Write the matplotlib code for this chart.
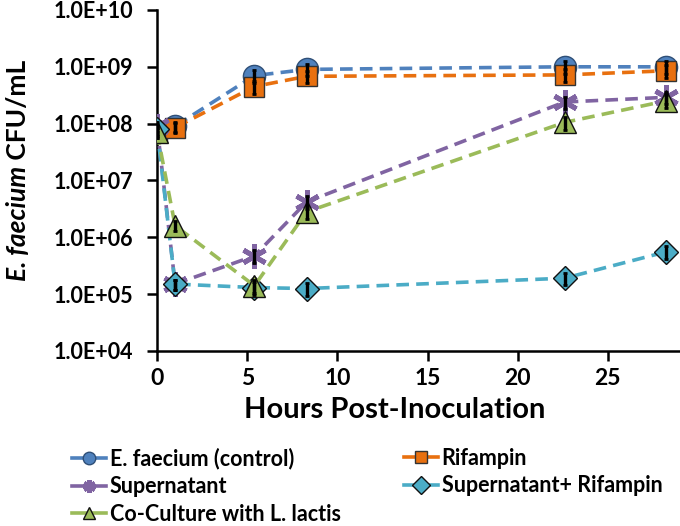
import matplotlib
matplotlib.use("Agg")
import matplotlib.pyplot as plt
from matplotlib.ticker import FuncFormatter, FixedLocator
import numpy as np

plt.rcParams['font.family'] = ['Lato', 'DejaVu Sans']
plt.rcParams['font.weight'] = 'bold'

hours = [0, 1.0, 5.4, 8.3, 22.6, 28.2]

control = [7.5e7, 9.0e7, 7.0e8, 9.0e8, 1.0e9, 1.0e9]
rifampin = [7.0e7, 8.5e7, 4.5e8, 6.8e8, 7.2e8, 8.5e8]
supernatant = [9.0e7, 1.5e5, 4.7e5, 4.2e6, 2.4e8, 2.9e8]
super_rif = [8.0e7, 1.5e5, 1.3e5, 1.25e5, 1.9e5, 5.5e5]
coculture = [7.0e7, 1.6e6, 1.4e5, 2.8e6, 1.05e8, 2.5e8]

# small error bars (fraction of value)
err_frac = [0.2, 0.2, 0.25, 0.25, 0.25, 0.25]

labels = ['E. faecium (control)', 'Rifampin', 'Supernatant',
          'Supernatant+ Rifampin', 'Co-Culture with L. lactis']
colors = ['#4F81BD', '#E8700F', '#8064A2', '#4BACC6', '#9BBB59']

fig = plt.figure(figsize=(6.8, 5.26), dpi=100)
ax = fig.add_axes([0.231, 0.333, 0.769, 0.648])

series = [control, rifampin, supernatant, super_rif, coculture]
styles = [
    dict(marker='o', markersize=16, markeredgecolor='#2F4F77', markeredgewidth=1.0),
    dict(marker='s', markersize=14, markeredgecolor='#333333', markeredgewidth=1.0),
    dict(marker=(6, 2, 0), markersize=18, markeredgecolor='#8064A2', markeredgewidth=3.5),
    dict(marker='D', markersize=12, markeredgecolor='#111111', markeredgewidth=1.0),
    dict(marker='^', markersize=16, markeredgecolor='#111111', markeredgewidth=1.0),
]

lines = []
for vals, lab, col, st in zip(series, labels, colors, styles):
    v = np.array(vals)
    e = v * np.array(err_frac)
    ln, = ax.plot(hours, vals, color=col, lw=2.6, ls=(0, (3.5, 2)), label=lab,
                  markerfacecolor=col, zorder=3, **st)
    lines.append(ln)
    ax.errorbar(hours, vals, yerr=e, fmt='none', ecolor='black', elinewidth=2.4,
                capsize=1.2, capthick=2, zorder=4)

ax.set_yscale('log')
ax.set_ylim(1e4, 1e10)
ax.set_xlim(0, 29)
ax.yaxis.set_major_locator(FixedLocator([1e4, 1e5, 1e6, 1e7, 1e8, 1e9, 1e10]))
ax.yaxis.set_minor_locator(FixedLocator([]))
ax.yaxis.set_major_formatter(FuncFormatter(lambda v, p: '1.0E+%02d' % round(np.log10(v))))
ax.set_xticks([0, 5, 10, 15, 20, 25])

for s in ['top', 'right']:
    ax.spines[s].set_visible(False)
for s in ['left', 'bottom']:
    ax.spines[s].set_linewidth(1.8)
ax.tick_params(axis='both', direction='out', length=7, width=1.8)
ax.tick_params(axis='y', labelsize=15.5, pad=10)
ax.tick_params(axis='x', labelsize=16.5, pad=5)
for t in ax.get_yticklabels() + ax.get_xticklabels():
    t.set_fontweight('bold')

ax.set_xlabel('Hours Post-Inoculation', fontsize=21, fontweight='bold')
ax.xaxis.set_label_coords(0.455, -0.173)
ax.xaxis.label.set_va('center')

# y label with italic species name, centered around y=170px
t1 = fig.text(0.027, 0.5, 'E. faecium', rotation=90, fontsize=19,
              fontweight='bold', fontstyle='italic', ha='center', va='bottom')
t2 = fig.text(0.027, 0.5, ' CFU/mL', rotation=90, fontsize=19,
              fontweight='bold', ha='center', va='bottom')
fig.canvas.draw()
H = fig.bbox.height
h1 = t1.get_window_extent().height / H
h2 = t2.get_window_extent().height / H
start = (526 - 170) / 526 - (h1 + h2) / 2
t1.set_y(start)
t2.set_y(start + h1)

legkw = dict(loc='upper left', frameon=False, fontsize=15.5, handlelength=1.6,
             handletextpad=0.15, labelspacing=0.3, borderpad=0, borderaxespad=0)
leg1 = fig.legend([lines[0], lines[2], lines[4]], [labels[0], labels[2], labels[4]],
                  bbox_to_anchor=(72 / 680, 1 - 448 / 526), **legkw)
leg2 = fig.legend([lines[1], lines[3]], [labels[1], labels[3]],
                  bbox_to_anchor=(404 / 680, 1 - 448 / 526), **legkw)
for leg in (leg1, leg2):
    for t in leg.get_texts():
        t.set_fontweight('bold')
    for lh in leg.legend_handles:
        lh.set_markersize(9)
        lh.set_linestyle('-')

fig.savefig('out.png', dpi=100)
